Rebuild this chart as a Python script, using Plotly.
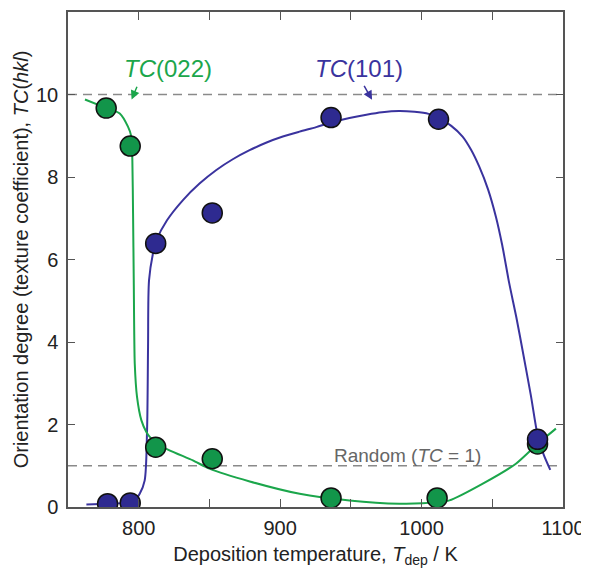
import plotly.graph_objects as go

# Measured data points
green_x = [777, 794, 812, 852, 936, 1011, 1082]
green_y = [9.67, 8.75, 1.45, 1.17, 0.22, 0.22, 1.53]
blue_x = [778, 794, 812, 852, 936, 1012, 1082]
blue_y = [0.08, 0.10, 6.39, 7.13, 9.44, 9.40, 1.64]

# Fitted curves
green_curve_x = [762, 777.2, 786.6, 792.4, 794.8, 795.5, 796, 796.5, 797.2, 798.8, 801.9, 805.4,
                 807.8, 814.8, 838.3, 850, 878.5, 913.8, 949, 984.3, 1000.5, 1019.7, 1043,
                 1066.7, 1082, 1095]
green_curve_y = [9.88, 9.67, 9.54, 9.22, 8.98, 8.41, 7.12, 5.5, 3.48, 2.67, 2.1, 1.82,
                 1.7, 1.49, 1.13, 0.93, 0.62, 0.32, 0.16, 0.08, 0.09, 0.16, 0.56,
                 1.05, 1.53, 1.9]
blue_curve_x = [763, 778, 790, 797, 800.7, 804.2, 805.9, 806.6, 807.3, 810.1, 812.6, 820, 831.3,
                843, 854.9, 866.5, 878.4, 890, 901.9, 913.7, 925.5, 936, 949, 961, 972, 984, 995, 1005,
                1012.6, 1021, 1029, 1035, 1040.8, 1047, 1052.6, 1057, 1062, 1067, 1071.4, 1077.3,
                1082, 1086, 1091]
blue_curve_y = [0.06, 0.08, 0.10, 0.16, 0.32, 0.64, 1.86, 3.88, 5.5, 6.15, 6.47, 6.95, 7.44,
                7.84, 8.17, 8.43, 8.65, 8.83, 8.98, 9.1, 9.21, 9.32, 9.43, 9.51, 9.57, 9.6, 9.58, 9.53,
                9.42, 9.24, 8.98, 8.66, 8.25, 7.7, 7.03, 6.35, 5.42, 4.6, 3.8, 2.7,
                1.75, 1.3, 0.9]

x_ticks = [800, 850, 900, 950, 1000, 1050, 1100]
x_ticktext = ["800", "", "900", "", "1000", "", "1100"]
y_ticks = [0, 2, 4, 6, 8, 10]

GREEN_LINE = "#1BA64B"
GREEN_FILL = "#12954A"
BLUE_LINE = "#3A339E"
BLUE_FILL = "#2E2A90"
FONT = "Liberation Sans, Arial, sans-serif"

fig = go.Figure()

# reference dashed lines
for yv in [10, 1]:
    fig.add_shape(type="line", xref="paper", x0=0, x1=1, yref="y", y0=yv, y1=yv,
                  line=dict(color="#8a8a8a", width=1.3, dash="9px,6px"), layer="below")

fig.add_trace(go.Scatter(x=blue_curve_x, y=blue_curve_y, mode="lines",
                         line=dict(color=BLUE_LINE, width=2, shape="spline", smoothing=0.8),
                         showlegend=False, hoverinfo="skip"))
fig.add_trace(go.Scatter(x=green_curve_x, y=green_curve_y, mode="lines",
                         line=dict(color=GREEN_LINE, width=2, shape="spline", smoothing=0.6),
                         showlegend=False, hoverinfo="skip"))
fig.add_trace(go.Scatter(x=green_x, y=green_y, mode="markers",
                         marker=dict(size=20, color=GREEN_FILL, line=dict(color="#111", width=1.5)),
                         showlegend=False))
fig.add_trace(go.Scatter(x=blue_x, y=blue_y, mode="markers",
                         marker=dict(size=20, color=BLUE_FILL, line=dict(color="#111", width=1.5)),
                         showlegend=False))

# labels
fig.add_annotation(x=820.5, y=10.64, text="<i>TC</i>(022)", showarrow=False,
                   font=dict(family=FONT, size=24, color=GREEN_LINE))
fig.add_annotation(x=956, y=10.64, text="<i>TC</i>(101)", showarrow=False,
                   font=dict(family=FONT, size=24, color=BLUE_LINE))
fig.add_annotation(x=990, y=1.25, text="Random (<i>TC</i> = 1)", showarrow=False,
                   font=dict(family=FONT, size=19, color="#666666"))

# arrows
fig.add_annotation(x=795, y=9.88, ax=799.5, ay=10.25, axref="x", ayref="y", text=" ",
                   showarrow=True, arrowhead=2, arrowsize=1.2, arrowwidth=1.5, arrowcolor=GREEN_LINE,
                   font=dict(size=2))
fig.add_annotation(x=965, y=9.87, ax=958.4, ay=10.27, axref="x", ayref="y", text=" ",
                   showarrow=True, arrowhead=2, arrowsize=1.2, arrowwidth=1.5, arrowcolor=BLUE_LINE,
                   font=dict(size=2))

axis_common = dict(showline=True, linecolor="#555555", linewidth=1.5, mirror="allticks",
                   ticks="inside", tickcolor="#555555", tickwidth=1.3, showgrid=False,
                   zeroline=False, automargin=False,
                   tickfont=dict(family=FONT, size=20, color="#222222"))

fig.update_xaxes(range=[750, 1100], tickvals=x_ticks, ticktext=x_ticktext, ticklen=8,
                 ticklabelstandoff=2,
                 title=dict(text="Deposition temperature, <i>T</i><sub>dep</sub> / K",
                            font=dict(family=FONT, size=20, color="#222222"), standoff=9),
                 **axis_common)
fig.update_yaxes(range=[0, 12], tickvals=y_ticks, ticklen=7, ticklabelstandoff=4,
                 title=dict(text="Orientation degree (texture coefficient), <i>TC</i>(<i>hkl</i>)",
                            font=dict(family=FONT, size=20, color="#222222"), standoff=2),
                 **axis_common)

fig.update_layout(width=589, height=575, margin=dict(l=60, r=34, t=4, b=76),
                  plot_bgcolor="white", paper_bgcolor="white",
                  font=dict(family=FONT))

fig.write_html("out.html")
